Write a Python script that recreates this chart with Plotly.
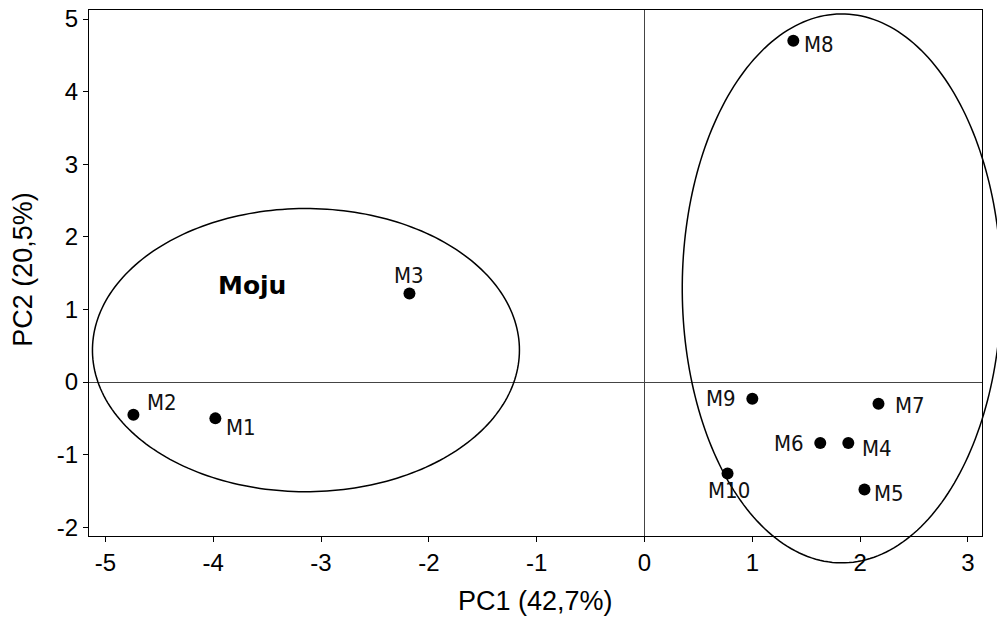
import numpy as np
import plotly.graph_objects as go

names = ["M1", "M2", "M3", "M4", "M5", "M6", "M7", "M8", "M9", "M10"]
pc1 = [-3.98, -4.74, -2.18, 1.89, 2.04, 1.63, 2.17, 1.38, 1.00, 0.77]
pc2 = [-0.50, -0.45, 1.22, -0.84, -1.48, -0.84, -0.30, 4.70, -0.23, -1.26]

# ellipses: center x, center y, radius x, radius y (data units)
ell_cx = [-3.14, 1.83]
ell_cy = [0.44, 1.29]
ell_rx = [1.98, 1.48]
ell_ry = [1.95, 3.78]

x_ticks = [-5, -4, -3, -2, -1, 0, 1, 2, 3]
x_tick_labels = ["-5", "-4", "-3", "-2", "-1", "0", "1", "2", "3"]
y_ticks = [-2, -1, 0, 1, 2, 3, 4, 5]
y_tick_labels = ["-2", "-1", "0", "1", "2", "3", "4", "5"]

x_range = [-5.152, 3.13]
y_range = [-2.12, 5.124]

# label placement (anchor, x shift px, y shift px)
label_anchor = ["left", "left", "center", "left", "left", "right", "left", "left", "right", "center"]
label_dx = [9, 12, 0, 12, 8, -14, 15, 9, -14, 1]
label_dy = [-9, 12, 18, -5, -4, 0, -2, -4, 0, -17]

fig = go.Figure()
fig.add_trace(go.Scatter(
    x=pc1, y=pc2, mode="markers",
    marker=dict(color="black", size=12, symbol="circle"),
    cliponaxis=False, showlegend=False, hoverinfo="skip"))

for n, x, y, a, dx, dy in zip(names, pc1, pc2, label_anchor, label_dx, label_dy):
    fig.add_annotation(x=x, y=y, text=n, showarrow=False, xanchor=a, yanchor="middle",
                       xshift=dx, yshift=dy,
                       font=dict(family="DejaVu Sans Condensed, DejaVu Sans", size=22, color="#111"))

def to_paper(v, r):
    return (v - r[0]) / (r[1] - r[0])

t = np.linspace(0, 2 * np.pi, 240)
for cx, cy, rx, ry in zip(ell_cx, ell_cy, ell_rx, ell_ry):
    xs = to_paper(cx + rx * np.cos(t), x_range)
    ys = to_paper(cy + ry * np.sin(t), y_range)
    path = "M " + " L ".join(f"{a:.5f},{b:.5f}" for a, b in zip(xs, ys)) + " Z"
    fig.add_shape(type="path", path=path, xref="paper", yref="paper",
                  line=dict(color="black", width=1.5))

fig.add_annotation(x=-3.64, y=1.325, text="<b>Moju</b>", showarrow=False,
                   font=dict(family="DejaVu Sans", size=25, color="black"))

fig.add_annotation(x=0.5, y=-0.1236, xref="paper", yref="paper", text="PC1 (42,7%)",
                   showarrow=False, xanchor="center", yanchor="middle",
                   font=dict(family="Liberation Sans", size=27, color="black"))
fig.add_annotation(x=-0.0739, y=0.506, xref="paper", yref="paper", text="PC2 (20,5%)",
                   showarrow=False, xanchor="center", yanchor="middle", textangle=-90,
                   font=dict(family="Liberation Sans", size=27, color="black"))

axis_common = dict(showgrid=False, showline=True, linecolor="black", linewidth=1.3,
                   mirror=True, ticks="outside", ticklen=5, tickwidth=1.3, tickcolor="black",
                   zeroline=True, zerolinecolor="#444", zerolinewidth=1, automargin=False,
                   tickfont=dict(family="Liberation Sans", size=24, color="black"))

fig.update_xaxes(range=x_range, tickvals=x_ticks, ticktext=x_tick_labels, **axis_common)
fig.update_yaxes(range=y_range, tickvals=y_ticks, ticktext=y_tick_labels, **axis_common)

fig.update_layout(width=997, height=619, margin=dict(l=89, r=15, t=10, b=83, autoexpand=False),
                  plot_bgcolor="white", paper_bgcolor="white")
fig.write_html("out.html", config={"displayModeBar": False},
               post_script="document.body.style.margin='0px';")
